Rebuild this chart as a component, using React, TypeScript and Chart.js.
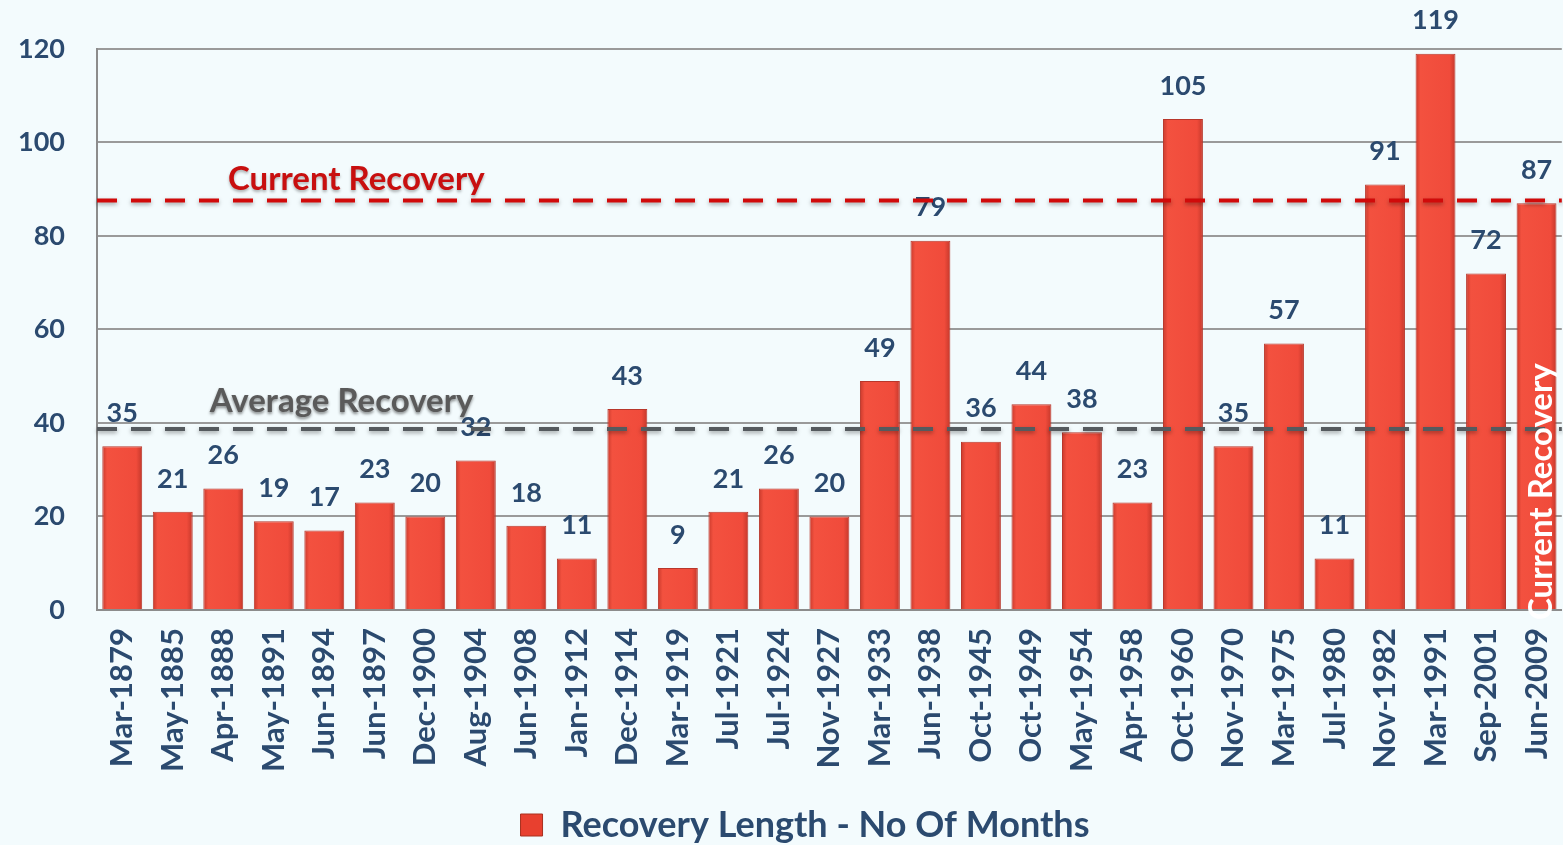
import React, { useEffect, useRef } from "react";
import { Chart, registerables } from "chart.js";

Chart.register(...registerables);

const categories = [
  "Mar-1879", "May-1885", "Apr-1888", "May-1891", "Jun-1894", "Jun-1897", "Dec-1900", "Aug-1904",
  "Jun-1908", "Jan-1912", "Dec-1914", "Mar-1919", "Jul-1921", "Jul-1924", "Nov-1927", "Mar-1933",
  "Jun-1938", "Oct-1945", "Oct-1949", "May-1954", "Apr-1958", "Oct-1960", "Nov-1970", "Mar-1975",
  "Jul-1980", "Nov-1982", "Mar-1991", "Sep-2001", "Jun-2009",
];
const recoveryMonths = [
  35, 21, 26, 19, 17, 23, 20, 32, 18, 11, 43, 9, 21, 26, 20, 49, 79, 36, 44, 38, 23, 105, 35, 57, 11, 91, 119, 72, 87,
];
const currentRecovery = 87.6;
const averageRecovery = 38.7;
const yTicks = [0, 20, 40, 60, 80, 100, 120];
const seriesLabel = "Recovery Length - No Of Months";
const currentLabel = "Current Recovery";
const averageLabel = "Average Recovery";

const FONT = "Lato, 'DejaVu Sans', sans-serif";
const BLUE = "#2b4a6f";
const BAR_PCT = 0.79;

const legendShiftPlugin = {
  id: "legendShift",
  afterLayout(chart: any) {
    const lg = chart.legend;
    if (!lg) return;
    lg.left += 13;
    lg.right += 13;
    lg.top += 12;
    lg.bottom += 12;
  },
};

const overlayPlugin = {
  id: "overlay",
  afterDatasetsDraw(chart: any) {
    const { ctx, chartArea, scales } = chart;
    const y = scales.y;
    const meta = chart.getDatasetMeta(0);
    ctx.save();
    ctx.font = `bold 27px ${FONT}`;
    ctx.fillStyle = BLUE;
    ctx.textAlign = "center";
    ctx.textBaseline = "middle";
    meta.data.forEach((bar: any, i: number) => {
      ctx.fillText(String(recoveryMonths[i]), bar.x, bar.y - 33);
    });
    const drawLine = (val: number, color: string) => {
      const py = y.getPixelForValue(val);
      ctx.save();
      ctx.strokeStyle = color;
      ctx.lineWidth = 4;
      ctx.setLineDash([20, 14]);
      ctx.shadowColor = "rgba(0,0,0,0.35)";
      ctx.shadowBlur = 4;
      ctx.shadowOffsetY = 2;
      ctx.beginPath();
      ctx.moveTo(chartArea.left, py);
      ctx.lineTo(chartArea.right, py);
      ctx.stroke();
      ctx.restore();
      return py;
    };
    const cy = drawLine(currentRecovery, "#d10a0a");
    const ay = drawLine(averageRecovery, "#555a5e");
    const w = chartArea.right - chartArea.left;
    ctx.font = `bold 33px ${FONT}`;
    ctx.textAlign = "center";
    ctx.textBaseline = "middle";
    ctx.fillStyle = "#c80f0f";
    ctx.shadowColor = "rgba(0,0,0,0.3)";
    ctx.shadowBlur = 3;
    ctx.shadowOffsetY = 2;
    ctx.fillText(currentLabel, chartArea.left + 0.177 * w, cy - 21);
    ctx.fillStyle = "#5a5a5a";
    ctx.shadowColor = "rgba(0,0,0,0.45)";
    ctx.fillText(averageLabel, chartArea.left + 0.167 * w, ay - 28);
    const last = meta.data[meta.data.length - 1];
    ctx.shadowColor = "transparent";
    ctx.fillStyle = "#ffffff";
    ctx.translate(last.x + 5, chartArea.bottom + 10);
    ctx.rotate(-Math.PI / 2);
    ctx.textAlign = "left";
    ctx.fillText(currentLabel, 0, 0);
    ctx.restore();
  },
};

function barFill(context: any) {
  const chart = context.chart;
  const xs = chart.scales?.x;
  if (!xs || context.dataIndex === undefined) return "#f04b3b";
  const cx = xs.getPixelForValue(context.dataIndex);
  const half = (xs.width / categories.length) * BAR_PCT / 2;
  const g = chart.ctx.createLinearGradient(cx - half, 0, cx + half, 0);
  g.addColorStop(0, "#c93a2c");
  g.addColorStop(0.12, "#f3513f");
  g.addColorStop(0.85, "#f04b3b");
  g.addColorStop(1, "#c4382b");
  return g;
}

export default function App() {
  const ref = useRef<HTMLCanvasElement | null>(null);
  useEffect(() => {
    if (!ref.current) return;
    const chart = new Chart(ref.current, {
      type: "bar",
      data: {
        labels: categories,
        datasets: [
          {
            label: seriesLabel,
            data: recoveryMonths,
            backgroundColor: barFill,
            borderColor: "#b8372b",
            borderWidth: 1,
            barPercentage: BAR_PCT,
            categoryPercentage: 1,
          },
        ],
      },
      options: {
        animation: false,
        responsive: true,
        maintainAspectRatio: false,
        layout: { padding: { top: 49, right: 15, left: 15, bottom: 4 } },
        plugins: {
          tooltip: { enabled: false },
          legend: {
            position: "bottom",
            labels: {
              color: BLUE,
              font: { family: FONT, size: 36, weight: "bold" },
              boxWidth: 22,
              boxHeight: 22,
              padding: 13,
              generateLabels: () => [
                {
                  text: seriesLabel,
                  fillStyle: "#e8402f",
                  strokeStyle: "#a8301f",
                  lineWidth: 1,
                  fontColor: BLUE,
                  datasetIndex: 0,
                  hidden: false,
                },
              ],
            },
          },
        },
        scales: {
          x: {
            grid: { display: false },
            border: { color: "#8c8c8c", width: 2 },
            ticks: {
              color: BLUE,
              font: { family: FONT, size: 31, weight: "bold" },
              maxRotation: 90,
              minRotation: 90,
              padding: 10,
              autoSkip: false,
            },
          },
          y: {
            min: 0,
            max: 120,
            afterBuildTicks: (axis: any) => {
              axis.ticks = yTicks.map((v) => ({ value: v }));
            },
            afterFit: (axis: any) => {
              axis.width = 82;
            },
            grid: { color: "#9a9a9a", lineWidth: 2, drawTicks: false },
            border: { color: "#8c8c8c", width: 2 },
            ticks: {
              color: BLUE,
              font: { family: FONT, size: 27, weight: "bold" },
              padding: 32,
            },
          },
        },
      },
      plugins: [legendShiftPlugin, overlayPlugin],
    });
    return () => chart.destroy();
  }, []);
  return (
    <div style={{ position: "fixed", left: 0, top: 0, width: "100vw", height: "100vh", overflow: "hidden", background: "#f3fbfd" }}>
      <div style={{ position: "absolute", left: 0, top: 0, width: 1584, height: 845 }}>
        <canvas ref={ref} />
      </div>
    </div>
  );
}
